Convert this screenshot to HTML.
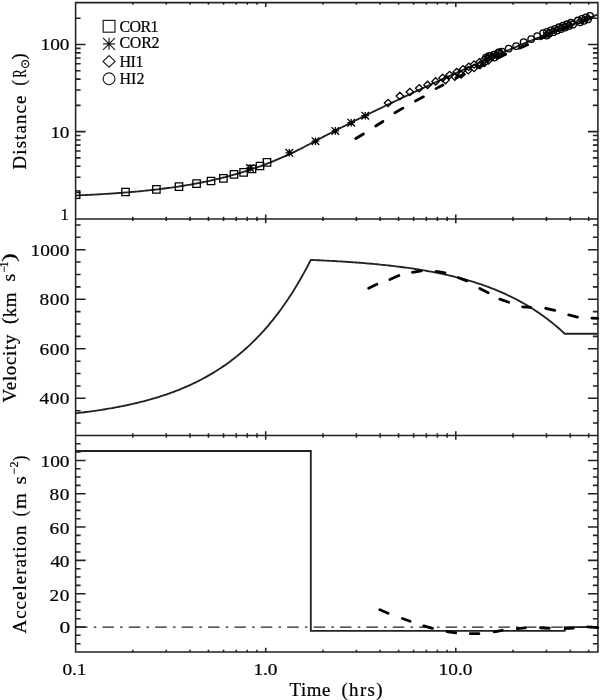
<!DOCTYPE html><html><head><meta charset="utf-8"><style>html,body{margin:0;padding:0;background:#fff;width:600px;height:700px;overflow:hidden}svg{display:block;will-change:transform}text{font-family:"Liberation Serif",serif;fill:#000;stroke:#000;stroke-width:0.2px}.ttl{stroke-width:0.22px}</style></head><body>
<svg width="600" height="700" viewBox="0 0 600 700">
<rect width="600" height="700" fill="#fff"/>
<path d="M75.6,2.6H597.9V218.9H75.6ZM75.6,218.9H597.9V435.45H75.6ZM75.6,435.45H597.9V652H75.6ZM75.6,218.9v-4.3M75.6,2.6v4.3M265.7,218.9v-4.3M265.7,2.6v4.3M455.8,218.9v-4.3M455.8,2.6v4.3M132.83,218.9v-2.2M132.83,2.6v2.2M166.3,218.9v-2.2M166.3,2.6v2.2M190.05,218.9v-2.2M190.05,2.6v2.2M208.47,218.9v-2.2M208.47,2.6v2.2M223.53,218.9v-2.2M223.53,2.6v2.2M236.25,218.9v-2.2M236.25,2.6v2.2M247.28,218.9v-2.2M247.28,2.6v2.2M257,218.9v-2.2M257,2.6v2.2M322.93,218.9v-2.2M322.93,2.6v2.2M356.4,218.9v-2.2M356.4,2.6v2.2M380.15,218.9v-2.2M380.15,2.6v2.2M398.57,218.9v-2.2M398.57,2.6v2.2M413.63,218.9v-2.2M413.63,2.6v2.2M426.35,218.9v-2.2M426.35,2.6v2.2M437.38,218.9v-2.2M437.38,2.6v2.2M447.1,218.9v-2.2M447.1,2.6v2.2M513.03,218.9v-2.2M513.03,2.6v2.2M546.5,218.9v-2.2M546.5,2.6v2.2M570.25,218.9v-2.2M570.25,2.6v2.2M588.67,218.9v-2.2M588.67,2.6v2.2M75.6,435.45v-4.3M75.6,218.9v4.3M265.7,435.45v-4.3M265.7,218.9v4.3M455.8,435.45v-4.3M455.8,218.9v4.3M132.83,435.45v-2.2M132.83,218.9v2.2M166.3,435.45v-2.2M166.3,218.9v2.2M190.05,435.45v-2.2M190.05,218.9v2.2M208.47,435.45v-2.2M208.47,218.9v2.2M223.53,435.45v-2.2M223.53,218.9v2.2M236.25,435.45v-2.2M236.25,218.9v2.2M247.28,435.45v-2.2M247.28,218.9v2.2M257,435.45v-2.2M257,218.9v2.2M322.93,435.45v-2.2M322.93,218.9v2.2M356.4,435.45v-2.2M356.4,218.9v2.2M380.15,435.45v-2.2M380.15,218.9v2.2M398.57,435.45v-2.2M398.57,218.9v2.2M413.63,435.45v-2.2M413.63,218.9v2.2M426.35,435.45v-2.2M426.35,218.9v2.2M437.38,435.45v-2.2M437.38,218.9v2.2M447.1,435.45v-2.2M447.1,218.9v2.2M513.03,435.45v-2.2M513.03,218.9v2.2M546.5,435.45v-2.2M546.5,218.9v2.2M570.25,435.45v-2.2M570.25,218.9v2.2M588.67,435.45v-2.2M588.67,218.9v2.2M75.6,652v-4.3M75.6,435.45v4.3M265.7,652v-4.3M265.7,435.45v4.3M455.8,652v-4.3M455.8,435.45v4.3M132.83,652v-2.2M132.83,435.45v2.2M166.3,652v-2.2M166.3,435.45v2.2M190.05,652v-2.2M190.05,435.45v2.2M208.47,652v-2.2M208.47,435.45v2.2M223.53,652v-2.2M223.53,435.45v2.2M236.25,652v-2.2M236.25,435.45v2.2M247.28,652v-2.2M247.28,435.45v2.2M257,652v-2.2M257,435.45v2.2M322.93,652v-2.2M322.93,435.45v2.2M356.4,652v-2.2M356.4,435.45v2.2M380.15,652v-2.2M380.15,435.45v2.2M398.57,652v-2.2M398.57,435.45v2.2M413.63,652v-2.2M413.63,435.45v2.2M426.35,652v-2.2M426.35,435.45v2.2M437.38,652v-2.2M437.38,435.45v2.2M447.1,652v-2.2M447.1,435.45v2.2M513.03,652v-2.2M513.03,435.45v2.2M546.5,652v-2.2M546.5,435.45v2.2M570.25,652v-2.2M570.25,435.45v2.2M588.67,652v-2.2M588.67,435.45v2.2M75.6,192.55h5M597.9,192.55h-5M75.6,177.2h5M597.9,177.2h-5M75.6,166.3h5M597.9,166.3h-5M75.6,157.85h5M597.9,157.85h-5M75.6,150.95h5M597.9,150.95h-5M75.6,145.11h5M597.9,145.11h-5M75.6,140.05h5M597.9,140.05h-5M75.6,135.59h5M597.9,135.59h-5M75.6,131.6h10M597.9,131.6h-10M75.6,105.35h5M597.9,105.35h-5M75.6,90h5M597.9,90h-5M75.6,79.1h5M597.9,79.1h-5M75.6,70.65h5M597.9,70.65h-5M75.6,63.75h5M597.9,63.75h-5M75.6,57.91h5M597.9,57.91h-5M75.6,52.85h5M597.9,52.85h-5M75.6,48.39h5M597.9,48.39h-5M75.6,44.4h10M597.9,44.4h-10M75.6,18.15h5M597.9,18.15h-5M75.6,423.09h5M597.9,423.09h-5M75.6,410.7h5M597.9,410.7h-5M75.6,398.32h10M597.9,398.32h-10M75.6,385.94h5M597.9,385.94h-5M75.6,373.55h5M597.9,373.55h-5M75.6,361.16h5M597.9,361.16h-5M75.6,348.78h10M597.9,348.78h-10M75.6,336.39h5M597.9,336.39h-5M75.6,324.01h5M597.9,324.01h-5M75.6,311.62h5M597.9,311.62h-5M75.6,299.24h10M597.9,299.24h-10M75.6,286.86h5M597.9,286.86h-5M75.6,274.47h5M597.9,274.47h-5M75.6,262.08h5M597.9,262.08h-5M75.6,249.7h10M597.9,249.7h-10M75.6,237.31h5M597.9,237.31h-5M75.6,224.93h5M597.9,224.93h-5M75.6,643.66h5M597.9,643.66h-5M75.6,635.33h5M597.9,635.33h-5M75.6,627h10M597.9,627h-10M75.6,618.67h5M597.9,618.67h-5M75.6,610.34h5M597.9,610.34h-5M75.6,602.01h5M597.9,602.01h-5M75.6,593.68h10M597.9,593.68h-10M75.6,585.35h5M597.9,585.35h-5M75.6,577.02h5M597.9,577.02h-5M75.6,568.69h5M597.9,568.69h-5M75.6,560.36h10M597.9,560.36h-10M75.6,552.03h5M597.9,552.03h-5M75.6,543.7h5M597.9,543.7h-5M75.6,535.37h5M597.9,535.37h-5M75.6,527.04h10M597.9,527.04h-10M75.6,518.71h5M597.9,518.71h-5M75.6,510.38h5M597.9,510.38h-5M75.6,502.05h5M597.9,502.05h-5M75.6,493.72h10M597.9,493.72h-10M75.6,485.39h5M597.9,485.39h-5M75.6,477.06h5M597.9,477.06h-5M75.6,468.73h5M597.9,468.73h-5M75.6,460.4h10M597.9,460.4h-10M75.6,452.07h5M597.9,452.07h-5M75.6,443.74h5M597.9,443.74h-5" fill="none" stroke="#222" stroke-width="1.55"/>
<text id="p1_100" transform="translate(40.5,50.05) scale(1.12,1)" font-size="17.3" textLength="25.89" lengthAdjust="spacing">100</text>
<text id="p1_10" transform="translate(50.5,138.2) scale(1.12,1)" font-size="17.3" textLength="16.96" lengthAdjust="spacing">10</text>
<text id="p1_1" transform="translate(60.5,219.65) scale(0.9600000000000001,1)" font-size="17.3">1</text>
<text id="p2_1000" transform="translate(30.5,255.82) scale(1.12,1)" font-size="17.3" textLength="34.82" lengthAdjust="spacing">1000</text>
<text id="p2_800" transform="translate(39.5,305.2) scale(1.12,1)" font-size="17.3" textLength="26.79" lengthAdjust="spacing">800</text>
<text id="p2_600" transform="translate(39.5,354.55) scale(1.12,1)" font-size="17.3" textLength="26.79" lengthAdjust="spacing">600</text>
<text id="p2_400" transform="translate(39.5,404.05) scale(1.12,1)" font-size="17.3" textLength="26.79" lengthAdjust="spacing">400</text>
<text id="p3_100" transform="translate(40.5,467.3) scale(1.12,1)" font-size="17.3" textLength="25.89" lengthAdjust="spacing">100</text>
<text id="p3_80" transform="translate(49.5,500.1) scale(1.12,1)" font-size="17.3" textLength="17.86" lengthAdjust="spacing">80</text>
<text id="p3_60" transform="translate(49.5,533.9) scale(1.12,1)" font-size="17.3" textLength="17.86" lengthAdjust="spacing">60</text>
<text id="p3_40" transform="translate(50.5,566.7) scale(1.12,1)" font-size="17.3" textLength="16.96" lengthAdjust="spacing">40</text>
<text id="p3_20" transform="translate(49.5,600.5) scale(1.12,1)" font-size="17.3" textLength="17.86" lengthAdjust="spacing">20</text>
<text id="p3_0" transform="translate(59.5,633.3) scale(1.2444444444444411,1)" font-size="17.3">0</text>
<text id="x_01" transform="translate(62.5,675.2) scale(1.12,1)" font-size="17.3" textLength="21.43" lengthAdjust="spacing">0.1</text>
<text id="x_1" transform="translate(253.5,675.2) scale(1.12,1)" font-size="17.3" textLength="21.43" lengthAdjust="spacing">1.0</text>
<text id="x_10" transform="translate(438.5,675.1) scale(1.12,1)" font-size="17.3" textLength="30.36" lengthAdjust="spacing">10.0</text>
<text id="t_time" class="ttl" transform="translate(289.5,696) scale(1.06,1)" font-size="17.8" textLength="38.68" lengthAdjust="spacing">Time</text>
<text id="t_hrs" class="ttl" transform="translate(341.5,695.95) scale(1.06,1)" font-size="17.8" textLength="38.68" lengthAdjust="spacing">(hrs)</text>
<text id="l_cor1" transform="translate(119.5,31.63) scale(1.0,1)" font-size="16" textLength="39" lengthAdjust="spacing">COR1</text>
<text id="l_cor2" transform="translate(119.5,48.4) scale(1.0,1)" font-size="16" textLength="40" lengthAdjust="spacing">COR2</text>
<text id="l_hi1" transform="translate(119.5,66.83) scale(1.0,1)" font-size="16" textLength="24" lengthAdjust="spacing">HI1</text>
<text id="l_hi2" transform="translate(119.5,83.8) scale(1.0,1)" font-size="16" textLength="25" lengthAdjust="spacing">HI2</text>
<text id="d_dist" class="ttl" transform="translate(26.25,169.5) rotate(-90) scale(1.06,1)" font-size="17.8" textLength="69.81" lengthAdjust="spacing">Distance</text>
<text id="d_op" class="ttl" transform="translate(25.05,85.5) rotate(-90) scale(0.8656674947805957,1)" font-size="18.5">(</text>
<text id="d_R" class="ttl" transform="translate(26.1,77.5) rotate(-90) scale(0.6767253454785349,1)" font-size="17.8">R</text>
<text id="d_sun" transform="translate(29.2,68.5) rotate(-90) scale(1.0,1)" font-size="11.5" textLength="-31" lengthAdjust="spacing">&#8857;</text>
<text id="d_cp" class="ttl" transform="translate(25.45,59.5) rotate(-90) scale(1.0,1)" font-size="18.5">)</text>
<text id="v_vel" class="ttl" transform="translate(15.75,402.5) rotate(-90) scale(1.06,1)" font-size="17.8" textLength="64.15" lengthAdjust="spacing">Velocity</text>
<text id="v_op" class="ttl" transform="translate(15.4,324.1) rotate(-90) scale(1.0230454505782272,1)" font-size="18.5">(</text>
<text id="v_km" class="ttl" transform="translate(15.7,317.3) rotate(-90) scale(1.06,1)" font-size="17.8" textLength="23.4" lengthAdjust="spacing">km</text>
<text id="v_s" class="ttl" transform="translate(15.45,281.5) rotate(-90) scale(1.116376279144432,1)" font-size="17.8">s</text>
<text id="v_sup" transform="translate(7.55,272.5) rotate(-90) scale(1.0,1)" font-size="12" textLength="11" lengthAdjust="spacing">&#8722;1</text>
<text id="v_cp" class="ttl" transform="translate(15.4,262.1) rotate(-90) scale(1.4287423608614824,1)" font-size="18.5">)</text>
<text id="a_acc" class="ttl" transform="translate(26.15,633.5) rotate(-90) scale(1.06,1)" font-size="17.8" textLength="101.89" lengthAdjust="spacing">Acceleration</text>
<text id="a_op" class="ttl" transform="translate(25.55,516.3) rotate(-90) scale(0.8645056196631644,1)" font-size="18.5">(</text>
<text id="a_m" class="ttl" transform="translate(26.45,509.1) rotate(-90) scale(1.149128096175033,1)" font-size="17.8">m</text>
<text id="a_s" class="ttl" transform="translate(26.25,484.5) rotate(-90) scale(1.195330454175151,1)" font-size="17.8">s</text>
<text id="a_sup" transform="translate(17.7,474.5) rotate(-90) scale(1.0,1)" font-size="12" textLength="13" lengthAdjust="spacing">&#8722;2</text>
<text id="a_cp" class="ttl" transform="translate(25.7,461.1) rotate(-90) scale(0.8579956430974249,1)" font-size="18.5">)</text>
<rect x="103.15" y="20.4" width="11.8" height="11.8" fill="none" stroke="#222" stroke-width="1.2"/><path d="M103.05,43.8h12.0M109.05,37.8v12.0M103.05,37.8l12.0,12.0M103.05,49.8l12.0,-12.0" stroke="#222" stroke-width="1.2" fill="none"/><circle cx="109.05" cy="43.8" r="1.1" fill="#000"/><path d="M103.05,61.4L109.05,55.6L115.05,61.4L109.05,67.2Z" stroke="#222" stroke-width="1.2" fill="none"/><circle cx="109.05" cy="78.75" r="5.9" stroke="#222" stroke-width="1.2" fill="none"/>
<polyline points="75.6,195.5 77.34,195.43 79.08,195.35 80.82,195.27 82.56,195.19 84.3,195.1 86.05,195.02 87.79,194.93 89.53,194.84 91.27,194.75 93.01,194.66 94.75,194.56 96.49,194.47 98.23,194.37 99.97,194.26 101.71,194.16 103.46,194.06 105.2,193.95 106.94,193.84 108.68,193.72 110.42,193.61 112.16,193.49 113.9,193.37 115.64,193.25 117.38,193.12 119.12,193 120.87,192.86 122.61,192.73 124.35,192.59 126.09,192.45 127.83,192.31 129.57,192.17 131.31,192.02 133.05,191.86 134.79,191.71 136.53,191.55 138.28,191.39 140.02,191.22 141.76,191.05 143.5,190.88 145.24,190.7 146.98,190.52 148.72,190.34 150.46,190.15 152.2,189.96 153.94,189.76 155.69,189.56 157.43,189.36 159.17,189.15 160.91,188.94 162.65,188.72 164.39,188.5 166.13,188.27 167.87,188.04 169.61,187.8 171.35,187.56 173.1,187.31 174.84,187.06 176.58,186.81 178.32,186.54 180.06,186.27 181.8,186 183.54,185.72 185.28,185.44 187.02,185.15 188.76,184.85 190.51,184.55 192.25,184.24 193.99,183.92 195.73,183.6 197.47,183.27 199.21,182.94 200.95,182.6 202.69,182.25 204.43,181.9 206.17,181.53 207.92,181.17 209.66,180.79 211.4,180.41 213.14,180.02 214.88,179.62 216.62,179.21 218.36,178.8 220.1,178.38 221.84,177.95 223.58,177.51 225.33,177.06 227.07,176.61 228.81,176.15 230.55,175.67 232.29,175.19 234.03,174.71 235.77,174.21 237.51,173.7 239.25,173.19 240.99,172.66 242.74,172.13 244.48,171.59 246.22,171.04 247.96,170.48 249.7,169.91 251.44,169.32 253.18,168.73 254.92,168.14 256.66,167.53 258.4,166.91 260.15,166.28 261.89,165.64 263.63,164.99 265.37,164.33 267.11,163.66 268.85,162.98 270.59,162.29 272.33,161.59 274.07,160.88 275.81,160.16 277.56,159.43 279.3,158.68 281.04,157.93 282.78,157.17 284.52,156.4 286.26,155.61 288,154.82 289.74,154.01 291.48,153.2 293.22,152.37 294.97,151.54 296.71,150.69 298.45,149.83 300.19,148.97 301.93,148.09 303.67,147.2 305.41,146.3 307.15,145.39 308.89,144.47 310.63,143.54 312.38,142.61 314.12,141.68 315.86,140.75 317.6,139.83 319.34,138.91 321.08,137.99 322.82,137.08 324.56,136.17 326.3,135.26 328.04,134.36 329.79,133.46 331.53,132.56 333.27,131.66 335.01,130.77 336.75,129.88 338.49,128.99 340.23,128.1 341.97,127.22 343.71,126.34 345.46,125.46 347.2,124.58 348.94,123.71 350.68,122.83 352.42,121.96 354.16,121.09 355.9,120.23 357.64,119.36 359.38,118.5 361.12,117.64 362.86,116.78 364.61,115.93 366.35,115.07 368.09,114.22 369.83,113.37 371.57,112.52 373.31,111.67 375.05,110.83 376.79,109.98 378.53,109.14 380.27,108.3 382.02,107.46 383.76,106.62 385.5,105.78 387.24,104.95 388.98,104.11 390.72,103.28 392.46,102.45 394.2,101.62 395.94,100.79 397.68,99.97 399.43,99.14 401.17,98.32 402.91,97.49 404.65,96.67 406.39,95.85 408.13,95.04 409.87,94.22 411.61,93.4 413.35,92.59 415.09,91.77 416.84,90.96 418.58,90.15 420.32,89.34 422.06,88.53 423.8,87.72 425.54,86.92 427.28,86.11 429.02,85.31 430.76,84.51 432.5,83.71 434.25,82.91 435.99,82.11 437.73,81.31 439.47,80.51 441.21,79.72 442.95,78.93 444.69,78.13 446.43,77.34 448.17,76.55 449.91,75.76 451.66,74.97 453.4,74.19 455.14,73.4 456.88,72.62 458.62,71.84 460.36,71.05 462.1,70.27 463.84,69.49 465.58,68.72 467.32,67.94 469.07,67.17 470.81,66.39 472.55,65.62 474.29,64.85 476.03,64.08 477.77,63.31 479.51,62.54 481.25,61.78 482.99,61.01 484.73,60.25 486.48,59.49 488.22,58.73 489.96,57.97 491.7,57.22 493.44,56.46 495.18,55.71 496.92,54.96 498.66,54.21 500.4,53.46 502.14,52.71 503.89,51.97 505.63,51.22 507.37,50.48 509.11,49.74 510.85,49.01 512.59,48.27 514.33,47.54 516.07,46.81 517.81,46.08 519.55,45.35 521.3,44.62 523.04,43.9 524.78,43.18 526.52,42.46 528.26,41.74 530,41.03 531.74,40.32 533.48,39.61 535.22,38.9 536.97,38.2 538.71,37.5 540.45,36.8 542.19,36.1 543.93,35.41 545.67,34.72 547.41,34.03 549.15,33.34 550.89,32.66 552.63,31.99 554.38,31.31 556.12,30.64 557.86,29.97 559.6,29.31 561.34,28.65 563.08,27.99 564.82,27.34 566.56,26.68 568.3,26.03 570.04,25.37 571.78,24.71 573.53,24.05 575.27,23.38 577.01,22.72 578.75,22.05 580.49,21.38 582.23,20.7 583.97,20.03 585.71,19.35 587.45,18.67 589.2,17.98 590.94,17.3 592.68,16.61 594.42,15.92 596.16,15.23 597.9,14.54" fill="none" stroke="#222" stroke-width="1.85"/>
<polyline points="75.6,413.31 77.34,413.1 79.08,412.9 80.82,412.69 82.56,412.48 84.3,412.26 86.05,412.03 87.79,411.81 89.53,411.57 91.27,411.34 93.01,411.09 94.75,410.84 96.49,410.59 98.23,410.33 99.97,410.07 101.71,409.8 103.46,409.52 105.2,409.24 106.94,408.95 108.68,408.66 110.42,408.36 112.16,408.05 113.9,407.74 115.64,407.42 117.38,407.09 119.12,406.76 120.87,406.42 122.61,406.07 124.35,405.72 126.09,405.36 127.83,404.98 129.57,404.61 131.31,404.22 133.05,403.83 134.79,403.42 136.53,403.01 138.28,402.59 140.02,402.16 141.76,401.72 143.5,401.28 145.24,400.82 146.98,400.35 148.72,399.87 150.46,399.39 152.2,398.89 153.94,398.38 155.69,397.86 157.43,397.33 159.17,396.79 160.91,396.24 162.65,395.67 164.39,395.1 166.13,394.51 167.87,393.91 169.61,393.29 171.35,392.66 173.1,392.02 174.84,391.37 176.58,390.7 178.32,390.02 180.06,389.32 181.8,388.61 183.54,387.88 185.28,387.14 187.02,386.38 188.76,385.6 190.51,384.81 192.25,384 193.99,383.18 195.73,382.34 197.47,381.47 199.21,380.6 200.95,379.7 202.69,378.78 204.43,377.84 206.17,376.89 207.92,375.91 209.66,374.91 211.4,373.89 213.14,372.85 214.88,371.79 216.62,370.7 218.36,369.59 220.1,368.46 221.84,367.3 223.58,366.12 225.33,364.92 227.07,363.68 228.81,362.43 230.55,361.14 232.29,359.83 234.03,358.49 235.77,357.12 237.51,355.72 239.25,354.29 240.99,352.83 242.74,351.34 244.48,349.82 246.22,348.27 247.96,346.68 249.7,345.06 251.44,343.41 253.18,341.71 254.92,339.99 256.66,338.22 258.4,336.42 260.15,334.58 261.89,332.71 263.63,330.79 265.37,328.83 267.11,326.83 268.85,324.78 270.59,322.69 272.33,320.56 274.07,318.38 275.81,316.16 277.56,313.89 279.3,311.57 281.04,309.2 282.78,306.78 284.52,304.31 286.26,301.79 288,299.21 289.74,296.58 291.48,293.89 293.22,291.14 294.97,288.34 296.71,285.47 298.45,282.55 300.19,279.56 301.93,276.51 303.67,273.39 305.41,270.21 307.15,266.96 308.89,263.64 310.63,260.25 310.81,259.91 312.38,259.97 314.12,260.05 315.86,260.13 317.6,260.21 319.34,260.29 321.08,260.38 322.82,260.46 324.56,260.55 326.3,260.64 328.04,260.73 329.79,260.83 331.53,260.92 333.27,261.02 335.01,261.12 336.75,261.22 338.49,261.33 340.23,261.43 341.97,261.54 343.71,261.65 345.46,261.77 347.2,261.88 348.94,262 350.68,262.12 352.42,262.25 354.16,262.37 355.9,262.5 357.64,262.63 359.38,262.77 361.12,262.9 362.86,263.04 364.61,263.19 366.35,263.33 368.09,263.48 369.83,263.63 371.57,263.79 373.31,263.95 375.05,264.11 376.79,264.28 378.53,264.45 380.27,264.62 382.02,264.8 383.76,264.98 385.5,265.16 387.24,265.35 388.98,265.54 390.72,265.74 392.46,265.94 394.2,266.14 395.94,266.35 397.68,266.57 399.43,266.78 401.17,267.01 402.91,267.23 404.65,267.47 406.39,267.7 408.13,267.95 409.87,268.19 411.61,268.45 413.35,268.7 415.09,268.97 416.84,269.24 418.58,269.51 420.32,269.79 422.06,270.08 423.8,270.37 425.54,270.67 427.28,270.98 429.02,271.29 430.76,271.61 432.5,271.93 434.25,272.27 435.99,272.61 437.73,272.95 439.47,273.31 441.21,273.67 442.95,274.04 444.69,274.42 446.43,274.8 448.17,275.19 449.91,275.6 451.66,276.01 453.4,276.43 455.14,276.85 456.88,277.29 458.62,277.74 460.36,278.19 462.1,278.66 463.84,279.14 465.58,279.62 467.32,280.12 469.07,280.63 470.81,281.14 472.55,281.67 474.29,282.21 476.03,282.76 477.77,283.33 479.51,283.9 481.25,284.49 482.99,285.09 484.73,285.7 486.48,286.33 488.22,286.97 489.96,287.62 491.7,288.29 493.44,288.97 495.18,289.66 496.92,290.38 498.66,291.1 500.4,291.84 502.14,292.6 503.89,293.37 505.63,294.16 507.37,294.97 509.11,295.79 510.85,296.63 512.59,297.49 514.33,298.37 516.07,299.26 517.81,300.18 519.55,301.11 521.3,302.07 523.04,303.04 524.78,304.04 526.52,305.05 528.26,306.09 530,307.15 531.74,308.24 533.48,309.34 535.22,310.47 536.97,311.62 538.71,312.8 540.45,314.01 542.19,315.24 543.93,316.49 545.67,317.77 547.41,319.08 549.15,320.42 550.89,321.79 552.63,323.18 554.38,324.61 556.12,326.06 557.86,327.55 559.6,329.06 561.34,330.61 563.08,332.2 564.75,333.74 564.82,333.74 566.56,333.74 568.3,333.74 570.04,333.74 571.78,333.74 573.53,333.74 575.27,333.74 577.01,333.74 578.75,333.74 580.49,333.74 582.23,333.74 583.97,333.74 585.71,333.74 587.45,333.74 589.2,333.74 590.94,333.74 592.68,333.74 594.42,333.74 596.16,333.74 597.9,333.74" fill="none" stroke="#222" stroke-width="1.85"/>
<path d="M75.6,451H310.81V630.8H564.75V627.1H597.9" fill="none" stroke="#222" stroke-width="1.85"/>
<path d="M75.6,627.05H597.9" stroke="#222" stroke-width="1.3" stroke-dasharray="11.5 6.2 2.6 6.1" stroke-dashoffset="-0.4" fill="none"/>
<path d="M355.77,138.56L363.43,133.94M375.76,126.03L382.94,121.47M394.98,112.68L402.92,108.12M415.41,100.93L423.39,96.87M436.01,88.63L442.89,85.07M455.93,77.88L464.07,74.12M477.16,67.54L484.84,64.46M497.62,58.28L505.68,54.29M519.65,48.13L527.65,44.68M540.64,38.79L548.66,35.21M561.66,29.88L569.64,26.71M582.66,21.45L590.64,18.16" fill="none" stroke="#000" stroke-width="2.8" stroke-linecap="round"/>
<path d="M368.63,288.21L376.87,284.29M389.89,279.49L398.86,275.51M412.49,272.31L421.26,270.94M436.24,271.44L445.01,272.81M458.47,277.74L466.83,280.86M479.82,288.56L488.18,292.74M499.88,299.12L508.72,302.28M522.55,306.79L530.75,307.41M545.72,308.29L554.78,310.41M568.72,314.98L577.48,317.02M591.95,318.08L597.75,318.42" fill="none" stroke="#000" stroke-width="2.8" stroke-linecap="round"/>
<path d="M379.9,609.74L388.1,613.26M402.42,618.44L410.08,621.31M423.7,625.85L432.55,628.4M446.94,631.66L455.76,632.84M470.25,633.7L478.95,633.7M494.22,631.94L502.28,630.26M517.24,628.58L525.26,627.82M540.45,627.77L549.25,628.23M565.25,628.62L573.25,628.08M587.75,626.89L597.75,627.61" fill="none" stroke="#000" stroke-width="2.8" stroke-linecap="round"/>
<circle cx="250" cy="168" r="1.0" fill="#000"/><circle cx="289.3" cy="152.8" r="1.0" fill="#000"/><circle cx="315.5" cy="141.2" r="1.0" fill="#000"/><circle cx="335.3" cy="130.9" r="1.0" fill="#000"/><circle cx="351.2" cy="122.7" r="1.0" fill="#000"/><circle cx="365.2" cy="115.7" r="1.0" fill="#000"/>
<defs><clipPath id="c1"><rect x="75.6" y="2.6" width="522.3" height="216.3"/></clipPath></defs>
<path clip-path="url(#c1)" d="M72.4,190.9h7.4v7.4h-7.4ZM121.8,188.3h7.4v7.4h-7.4ZM152.7,185.7h7.4v7.4h-7.4ZM175.3,182.9h7.4v7.4h-7.4ZM192.9,179.9h7.4v7.4h-7.4ZM207.3,177.3h7.4v7.4h-7.4ZM219.7,174.7h7.4v7.4h-7.4ZM230.3,170.7h7.4v7.4h-7.4ZM239.9,168.7h7.4v7.4h-7.4ZM248.3,165.3h7.4v7.4h-7.4ZM256.3,162.3h7.4v7.4h-7.4ZM263.3,158.7h7.4v7.4h-7.4ZM246.2,168h7.6M250,164.2v7.6M246.2,164.2l7.6,7.6M246.2,171.8l7.6,-7.6M285.5,152.8h7.6M289.3,149v7.6M285.5,149l7.6,7.6M285.5,156.6l7.6,-7.6M311.7,141.2h7.6M315.5,137.4v7.6M311.7,137.4l7.6,7.6M311.7,145l7.6,-7.6M331.5,130.9h7.6M335.3,127.1v7.6M331.5,127.1l7.6,7.6M331.5,134.7l7.6,-7.6M347.4,122.7h7.6M351.2,118.9v7.6M347.4,118.9l7.6,7.6M347.4,126.5l7.6,-7.6M361.4,115.7h7.6M365.2,111.9v7.6M361.4,111.9l7.6,7.6M361.4,119.5l7.6,-7.6M384.35,103l3.75,-3.65l3.75,3.65l-3.75,3.65ZM396.15,96l3.75,-3.65l3.75,3.65l-3.75,3.65ZM406.15,92l3.75,-3.65l3.75,3.65l-3.75,3.65ZM415.45,88.3l3.75,-3.65l3.75,3.65l-3.75,3.65ZM423.85,84.9l3.75,-3.65l3.75,3.65l-3.75,3.65ZM431.85,81.4l3.75,-3.65l3.75,3.65l-3.75,3.65ZM438.85,77.9l3.75,-3.65l3.75,3.65l-3.75,3.65ZM445.85,75l3.75,-3.65l3.75,3.65l-3.75,3.65ZM452.85,72.1l3.75,-3.65l3.75,3.65l-3.75,3.65ZM459.25,69.2l3.75,-3.65l3.75,3.65l-3.75,3.65ZM465.05,66.8l3.75,-3.65l3.75,3.65l-3.75,3.65ZM470.35,64.5l3.75,-3.65l3.75,3.65l-3.75,3.65ZM475.65,62.2l3.75,-3.65l3.75,3.65l-3.75,3.65ZM480.25,59.8l3.75,-3.65l3.75,3.65l-3.75,3.65ZM441.75,80.1l3.75,-3.65l3.75,3.65l-3.75,3.65ZM451.05,76.7l3.75,-3.65l3.75,3.65l-3.75,3.65ZM457.45,74.4l3.75,-3.65l3.75,3.65l-3.75,3.65ZM464.45,70.3l3.75,-3.65l3.75,3.65l-3.75,3.65ZM470.35,68l3.75,-3.65l3.75,3.65l-3.75,3.65ZM476.15,65.1l3.75,-3.65l3.75,3.65l-3.75,3.65ZM480.65,63l3.75,-3.65l3.75,3.65l-3.75,3.65ZM484.65,60.5l3.75,-3.65l3.75,3.65l-3.75,3.65ZM484.65,58l3.75,-3.65l3.75,3.65l-3.75,3.65ZM488.65,56.5l3.75,-3.65l3.75,3.65l-3.75,3.65ZM492.65,55l3.75,-3.65l3.75,3.65l-3.75,3.65ZM496.65,53.5l3.75,-3.65l3.75,3.65l-3.75,3.65Z" fill="none" stroke="#000" stroke-width="1.3"/>
<g clip-path="url(#c1)" fill="none" stroke="#000" stroke-width="1.35"><circle cx="488.7" cy="56.1" r="3.3"/><circle cx="499.2" cy="52.1" r="3.3"/><circle cx="508.7" cy="48.6" r="3.3"/><circle cx="516.2" cy="46.1" r="3.3"/><circle cx="523.7" cy="42.1" r="3.3"/><circle cx="531.2" cy="39.1" r="3.3"/><circle cx="537.2" cy="36.1" r="3.3"/><circle cx="543.2" cy="33.1" r="3.3"/><circle cx="494.3" cy="57.6" r="3.3"/><circle cx="546.7" cy="35.6" r="3.3"/><circle cx="486" cy="57.6" r="3.3"/><circle cx="490" cy="56.1" r="3.3"/><circle cx="494" cy="54.6" r="3.3"/><circle cx="498" cy="53.1" r="3.3"/><circle cx="502" cy="51.6" r="3.3"/><circle cx="547" cy="31.99" r="3.3"/><circle cx="551" cy="30.42" r="3.3"/><circle cx="555" cy="28.87" r="3.3"/><circle cx="559" cy="27.33" r="3.3"/><circle cx="563" cy="25.82" r="3.3"/><circle cx="567" cy="24.32" r="3.3"/><circle cx="571" cy="22.81" r="3.3"/><circle cx="549" cy="33.7" r="3.3"/><circle cx="553" cy="32.14" r="3.3"/><circle cx="557" cy="30.6" r="3.3"/><circle cx="561" cy="29.07" r="3.3"/><circle cx="565" cy="27.57" r="3.3"/><circle cx="569" cy="26.07" r="3.3"/><circle cx="573" cy="24.55" r="3.3"/><circle cx="578" cy="20.54" r="3.3"/><circle cx="582" cy="18.99" r="3.3"/><circle cx="586" cy="17.43" r="3.3"/><circle cx="590" cy="15.87" r="3.3"/><circle cx="580" cy="22.36" r="3.3"/><circle cx="584" cy="20.81" r="3.3"/><circle cx="588" cy="19.25" r="3.3"/></g>
</svg></body></html>
